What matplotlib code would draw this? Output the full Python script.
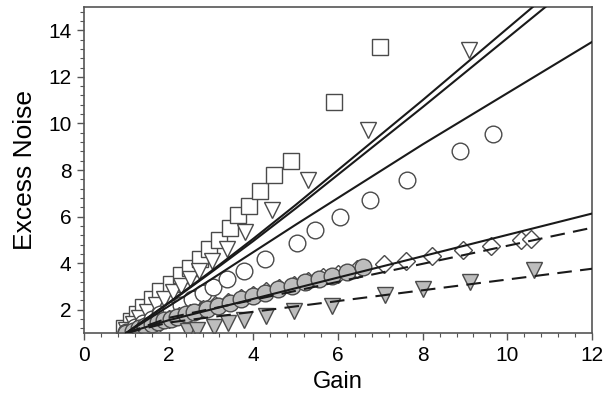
import matplotlib
matplotlib.use("Agg")
import matplotlib.pyplot as plt
from matplotlib.ticker import MultipleLocator

plt.rcParams['font.family'] = ['Liberation Sans', 'DejaVu Sans']

# ---------------- data ----------------
sq_x = [0.95, 1.1, 1.25, 1.4, 1.6, 1.8, 2.05, 2.3, 2.5, 2.75, 2.95, 3.2, 3.45, 3.65, 3.9, 4.15, 4.5, 4.9, 5.9, 7.0]
sq_y = [1.2, 1.5, 1.8, 2.1, 2.45, 2.8, 3.1, 3.5, 3.8, 4.2, 4.6, 5.0, 5.5, 6.05, 6.45, 7.1, 7.8, 8.4, 10.9, 13.3]

tri_x = [1.0, 1.15, 1.3, 1.5, 1.7, 1.9, 2.1, 2.3, 2.5, 2.72, 3.02, 3.37, 3.81, 4.44, 5.3, 6.72, 9.09]
tri_y = [1.15, 1.4, 1.65, 1.9, 2.2, 2.45, 2.75, 3.0, 3.3, 3.68, 4.1, 4.62, 5.35, 6.27, 7.57, 9.7, 13.15]

circ_x = [1.0, 1.2, 1.4, 1.6, 1.8, 2.05, 2.3, 2.55, 2.8, 3.05, 3.37, 3.77, 4.28, 5.03, 5.46, 6.04, 6.75, 7.64, 8.89, 9.66]
circ_y = [1.05, 1.25, 1.45, 1.6, 1.8, 2.0, 2.2, 2.45, 2.7, 2.96, 3.3, 3.68, 4.2, 4.88, 5.43, 6.0, 6.73, 7.59, 8.81, 9.56]

dia_x = [1.0, 1.2, 1.4, 1.6, 1.8, 2.0, 2.25, 2.5, 2.8, 3.1, 3.4, 3.7, 4.0, 4.3, 4.6, 4.95, 5.3, 5.65, 6.0, 6.45,
         7.08, 7.6, 8.23, 8.95, 9.62, 10.33, 10.56]
dia_y = [1.0, 1.12, 1.25, 1.37, 1.48, 1.6, 1.74, 1.88, 2.04, 2.2, 2.34, 2.5, 2.64, 2.79, 2.93, 3.08, 3.24, 3.4, 3.55, 3.75,
         3.97, 4.11, 4.31, 4.57, 4.72, 4.98, 5.04]

gcirc_x = [1.0, 1.15, 1.3, 1.45, 1.6, 1.75, 1.9, 2.05, 2.2, 2.4, 2.6, 2.9, 3.17, 3.45, 3.72, 4.0, 4.28, 4.59, 4.91, 5.22,
           5.54, 5.86, 6.21, 6.6]
gcirc_y = [1.0, 1.1, 1.2, 1.3, 1.38, 1.46, 1.54, 1.62, 1.7, 1.8, 1.9, 2.03, 2.17, 2.31, 2.46, 2.6, 2.74, 2.89, 3.03, 3.17,
           3.32, 3.46, 3.63, 3.82]

gtri_x = [2.45, 2.68, 3.07, 3.41, 3.79, 4.29, 4.95, 5.86, 7.12, 8.0, 9.13, 10.62]
gtri_y = [1.08, 1.12, 1.27, 1.42, 1.56, 1.72, 1.93, 2.17, 2.62, 2.89, 3.2, 3.69]

# fitted curves
lineA_x = [1, 2, 3, 4, 5, 6, 8, 10.6]
lineA_y = [1.0, 2.3, 3.65, 5.05, 6.5, 8.0, 11.0, 15.0]
lineB_x = [1, 2, 3, 4, 5, 6, 8, 10.9]
lineB_y = [1.0, 2.28, 3.6, 4.95, 6.35, 7.8, 10.7, 15.0]
lineC_x = [1, 3, 5, 8, 12]
lineC_y = [1.0, 3.3, 5.65, 9.1, 13.5]
lineD_x = [1, 2, 12]
lineD_y = [1.0, 1.55, 6.13]
lineE_x = [1, 2, 12]
lineE_y = [1.0, 1.65, 5.52]
lineF_x = [1, 2, 12]
lineF_y = [1.0, 1.45, 3.76]

xticks = [0, 2, 4, 6, 8, 10, 12]
yticks = [2, 4, 6, 8, 10, 12, 14]

# ---------------- plot ----------------
fig = plt.figure(figsize=(6.05, 4.12), dpi=100)
ax = fig.add_axes([0.1388, 0.1917, 0.8397, 0.7913])

edge = '#4a4a4a'
gray = '#bdbdbd'
mk = dict(linestyle='none', markeredgewidth=1.0, markeredgecolor=edge, zorder=2)

ax.plot(sq_x, sq_y, marker='s', markersize=11, markerfacecolor='white', **mk)
ax.plot(tri_x, tri_y, marker='v', markersize=12, markerfacecolor='white', **mk)
ax.plot(circ_x, circ_y, marker='o', markersize=12, markerfacecolor='white', **mk)
ax.plot(dia_x, dia_y, marker='D', markersize=9, markerfacecolor='white', **mk)
ax.plot(gcirc_x, gcirc_y, marker='o', markersize=12, markerfacecolor=gray, **mk)
ax.plot(gtri_x, gtri_y, marker='v', markersize=12, markerfacecolor=gray, **mk)

lc = '#1a1a1a'
ax.plot(lineA_x, lineA_y, color=lc, lw=1.5, zorder=3)
ax.plot(lineB_x, lineB_y, color=lc, lw=1.5, zorder=3)
ax.plot(lineC_x, lineC_y, color=lc, lw=1.5, zorder=3)
ax.plot(lineD_x, lineD_y, color=lc, lw=1.5, zorder=3)
ax.plot(lineE_x, lineE_y, color=lc, lw=1.5, ls=(0, (7, 4)), zorder=3)
ax.plot(lineF_x, lineF_y, color=lc, lw=1.5, ls=(0, (7, 4)), zorder=3)

ax.set_xlim(0, 12)
ax.set_ylim(1, 15)
ax.set_xticks(xticks)
ax.set_yticks(yticks)
ax.xaxis.set_minor_locator(MultipleLocator(0.4))
ax.yaxis.set_minor_locator(MultipleLocator(0.4))

for s in ax.spines.values():
    s.set_color('#555555')
    s.set_linewidth(1.2)
ax.tick_params(which='major', direction='out', length=5, width=1.0, color='#555555', labelsize=15, pad=4)
ax.tick_params(which='minor', direction='out', length=3, width=0.8, color='#555555')

ax.set_xlabel('Gain', fontsize=17, labelpad=5)
ax.set_ylabel('Excess Noise', fontsize=19, labelpad=8)

fig.savefig('out.png', dpi=100)
